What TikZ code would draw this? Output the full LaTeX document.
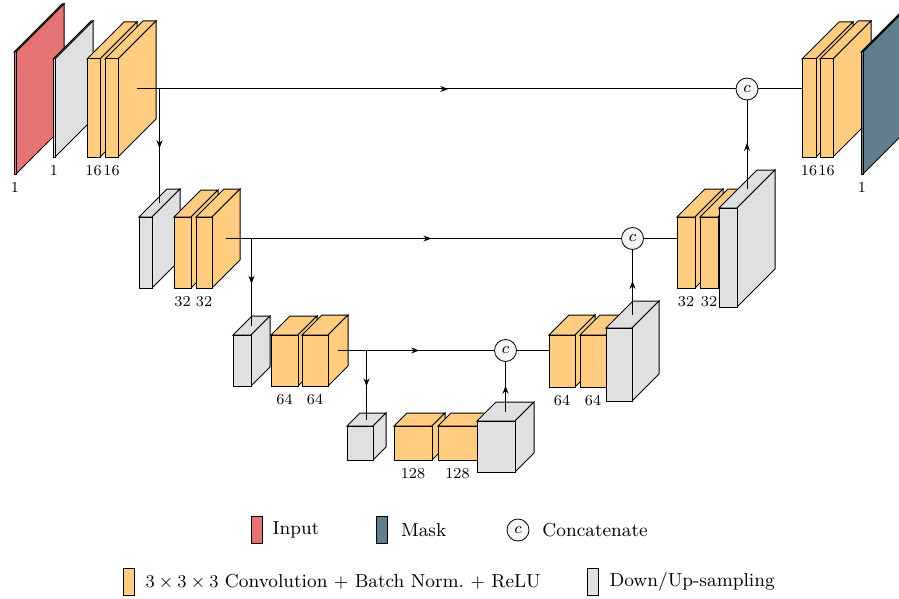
\documentclass[tikz,border=0pt]{standalone}
\usepackage{tikz}
\usetikzlibrary{arrows.meta,positioning,decorations.markings}
\definecolor{inputc}{HTML}{E57373}
\definecolor{maskc}{HTML}{607D8B}
\definecolor{convc}{HTML}{FFCC80}
\definecolor{samplec}{HTML}{E0E0E0}
\tikzset{
  face/.style={draw=black, line width=0.5pt},
  pics/cuboid/.style n args={4}{code={%
      \draw[face, fill=#4] (0,0) -- ++(#3,-#3) -- ++(#1,0) -- ++(-#3,#3) -- cycle;
      \draw[face, fill=#4] (#1,0) -- ++(#3,-#3) -- ++(0,#2) -- ++(-#3,#3) -- cycle;
      \draw[face, fill=#4] (0,0) rectangle (#1,#2);
      \coordinate (-nw) at (0,0);
      \coordinate (-bot) at ({#1/2},#2);
      \coordinate (-top) at ({#1/2+#3/2},{-#3/2});
      \coordinate (-east) at ({#1+#3/2},{#2/2-#3/2});
    }},
  dim/.style={below, font=\fontsize{7.6}{9}\selectfont, inner sep=4pt},
  cat/.style={draw, circle, fill=gray!8, minimum size=11pt, inner sep=0pt, font=\footnotesize},
  link/.style={line width=0.5pt},
  midarrow/.style={link, postaction={decorate},
      decoration={markings, mark=at position 0.52 with {\arrow{Stealth[length=4pt,width=3pt]}}}},
  key/.style={draw, line width=0.5pt, minimum width=5.5pt, minimum height=13.5pt, inner sep=0pt},
  legend/.style={font=\fontsize{9.4}{11}\selectfont}
}
\begin{document}
\begin{tikzpicture}[x=0.5pt, y=-0.5pt]
\useasboundingbox (0,0) rectangle (899,599);
% encoder
\path
  (14,52) pic (in) {cuboid={2}{122}{48}{inputc}}
  (53,59) pic (d0) {cuboid={2}{98}{38}{samplec}}
  (87,59) pic (e1a) {cuboid={13}{98}{37}{convc}}
  (105,59) pic (e1b) {cuboid={13}{98}{38}{convc}};
\path
  (139,217) pic (d1) {cuboid={13}{71}{28}{samplec}}
  (174,217) pic (e2a) {cuboid={17}{71}{27}{convc}}
  (196,217) pic (e2b) {cuboid={16}{71}{28}{convc}};
\path
  (233,335) pic (d2) {cuboid={18}{51}{19}{samplec}}
  (271,335) pic (e3a) {cuboid={27}{51}{19}{convc}}
  (302,335) pic (e3b) {cuboid={26}{51}{20}{convc}};
% bottom
\path
  (347,426) pic (d3) {cuboid={26}{34}{13}{samplec}}
  (394,426) pic (e4a) {cuboid={38}{34}{13}{convc}}
  (438,426) pic (e4b) {cuboid={39}{34}{13}{convc}}
  (477,421) pic (u3) {cuboid={38}{51}{19}{samplec}};
% decoder
\path
  (549,335) pic (f3a) {cuboid={26}{52}{20}{convc}}
  (580,335) pic (f3b) {cuboid={26}{52}{20}{convc}}
  (606,328) pic (u2) {cuboid={26}{73}{27}{samplec}};
\path
  (677,217) pic (f2a) {cuboid={18}{71}{28}{convc}}
  (700,217) pic (f2b) {cuboid={18}{71}{28}{convc}}
  (719,208) pic (u1) {cuboid={18}{99}{38}{samplec}};
\path
  (802,59) pic (f1a) {cuboid={14}{98}{37}{convc}}
  (820,59) pic (f1b) {cuboid={13}{98}{38}{convc}}
  (861,52) pic (out) {cuboid={2}{122}{48}{maskc}};

% channel numbers
\foreach \b/\t in {in/1, d0/1, e1a/16, e1b/16, e2a/32, e2b/32, e3a/64, e3b/64,
                   e4a/128, e4b/128, f3a/64, f3b/64, f2a/32, f2b/32, f1a/16, f1b/16, out/1}
  \node[dim] at (\b-bot) {\t};

% concatenation
\node[cat] (cat1) at (u1-top |- e1b-east) {$c$};
\node[cat] (cat2) at (u2-top |- e2b-east) {$c$};
\node[cat] (cat3) at (u3-top |- e3b-east) {$c$};

% the arrows
\draw[midarrow] (e1b-east) -- (cat1);
\draw[midarrow] (e2b-east) -- (cat2);
\draw[midarrow] (e3b-east) -- (cat3);
\draw[midarrow] (e1b-east -| d1-top) -- (d1-top);
\draw[midarrow] (e2b-east -| d2-top) -- (d2-top);
\draw[midarrow] (e3b-east -| d3-top) -- (d3-top);
\draw[midarrow] (u3-top) -- (cat3);
\draw[midarrow] (u2-top) -- (cat2);
\draw[midarrow] (u1-top) -- (cat1);
\draw[link] (cat3) -- (cat3 -| f3a-nw);
\draw[link] (cat2) -- (cat2 -| f2a-nw);
\draw[link] (cat1) -- (cat1 -| f1a-nw);

% legend
\node[key, fill=inputc] (kin) at (256.5,530) {};
\node[legend, right=1.5pt of kin] (tin) {Input};
\node[key, fill=maskc] (kmask) at (382,530) {};
\node[legend, right=3pt of kmask] (tmask) {Mask};
\node[cat] (kcat) at (518,530) {$c$};
\node[legend, right=3pt of kcat] (tcat) {Concatenate};
\node[key, fill=convc] (kconv) at (128.5,582) {};
\node[legend, right=2pt of kconv] (tconv) {$3\times3\times3$ Convolution $+$ Batch Norm.\ $+$ ReLU};
\node[key, fill=samplec] (ksample) at (592.5,582) {};
\node[legend, right=2pt of ksample] (tsample) {Down/Up-sampling};
\end{tikzpicture}
\end{document}
